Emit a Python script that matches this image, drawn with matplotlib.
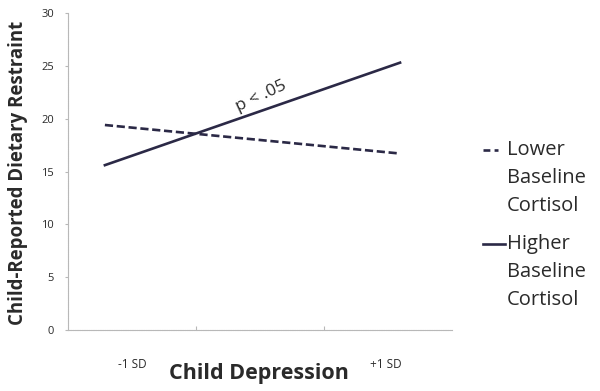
import matplotlib.pyplot as plt
from matplotlib.lines import Line2D

plt.rcParams['font.family'] = ['Open Sans', 'DejaVu Sans']

x_labels = ['-1 SD', '+1 SD']
lower_cortisol = [19.4, 16.7]
higher_cortisol = [15.6, 25.3]
y_ticks = [0, 5, 10, 15, 20, 25, 30]

ink = '#2b2946'
text_col = '#2a2a2a'
axis_gray = '#b8b8b8'

fig = plt.figure(figsize=(6, 3.91), dpi=100)
ax = fig.add_axes([68 / 600, 1 - 330 / 391, (452 - 68) / 600, (330 - 13) / 391])

# categories sit at 0 and 1; the axis runs a bit past them on both sides
xs = [0, 1]
ax.plot(xs, lower_cortisol, color=ink, lw=1.9, ls=(0, (3.1, 1.4)))
ax.plot(xs, higher_cortisol, color=ink, lw=1.9)

ax.set_xlim(-0.125, 1.176)
ax.set_ylim(0, 30)
ax.set_yticks(y_ticks)
ax.tick_params(axis='y', length=2, color=axis_gray, labelsize=8, labelcolor=text_col, pad=8)
ax.set_xticks([0.308, 0.742])
ax.set_xticklabels(['', ''])
ax.tick_params(axis='x', length=3, color=axis_gray, direction='in')

for side in ['top', 'right']:
    ax.spines[side].set_visible(False)
for side in ['left', 'bottom']:
    ax.spines[side].set_color(axis_gray)
    ax.spines[side].set_linewidth(0.8)
    ax.spines[side].set_linestyle((0, (1, 0.6)))

ax.text(0.167, -0.11, x_labels[0], transform=ax.transAxes, ha='center', va='center',
        fontsize=8.5, color=text_col)
ax.text(0.828, -0.11, x_labels[1], transform=ax.transAxes, ha='center', va='center',
        fontsize=8.5, color=text_col)

fig.text(259 / 600, 1 - 373 / 391, 'Child Depression', fontsize=15.5, fontweight='bold',
         color=text_col, ha='center', va='center')
fig.text(18 / 600, 1 - 173 / 391, 'Child-Reported Dietary Restraint', fontsize=13.4,
         fontweight='bold', color=text_col, ha='center', va='center', rotation=90)

ax.text(0.53, 22.1, 'p < .05', rotation=25, fontsize=12.5, color=text_col,
        ha='center', va='center')

# legend drawn by hand so the handle lines up with the first word
def legend_entry(y_px, dashed, lines):
    y = 1 - y_px / 391
    if dashed:
        fig.add_artist(Line2D([483 / 600, 498 / 600], [y, y], color=ink, lw=1.9,
                              ls=(0, (2.6, 1.6)), transform=fig.transFigure))
    else:
        fig.add_artist(Line2D([483 / 600, 505 / 600], [y, y], color=ink, lw=1.9,
                              transform=fig.transFigure))
    for i, word in enumerate(lines):
        fig.text(507 / 600, 1 - (y_px + i * 28) / 391, word, fontsize=14.5,
                 color=text_col, va='center', ha='left')

legend_entry(150, True, ['Lower', 'Baseline', 'Cortisol'])
legend_entry(244, False, ['Higher', 'Baseline', 'Cortisol'])

fig.savefig('out.png', dpi=100)
